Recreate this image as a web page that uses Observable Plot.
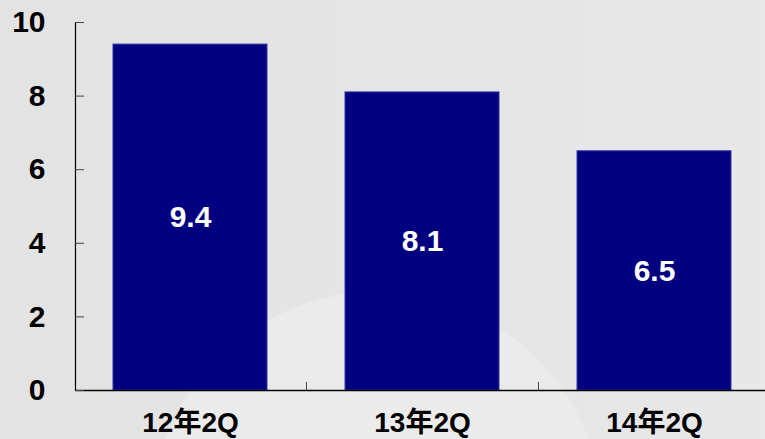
<!DOCTYPE html>
<html>
<head>
<meta charset="utf-8">
<script src="https://cdn.jsdelivr.net/npm/d3@7"></script>
<script src="https://cdn.jsdelivr.net/npm/@observablehq/plot@0.6"></script>
<style>
  html, body { margin: 0; padding: 0; }
  body {
    width: 765px; height: 439px; overflow: hidden;
    background:
      radial-gradient(circle 227px at 377px 518px, #ebebeb 0, #ebebeb 99%, rgba(235,235,235,0) 100%),
      linear-gradient(90deg, #e3e3e3 0%, #e5e5e5 60%, #e8e8e8 100%);
  }
  #chart svg { display: block; }
</style>
</head>
<body>
<div id="chart"></div>
<script>
const categories = ["12年2Q", "13年2Q", "14年2Q"];
const values = [9.4, 8.1, 6.5];
const yTicks = [0, 2, 4, 6, 8, 10];

const data = categories.map((c, i) => ({cat: c, value: values[i]}));
const font = "'Liberation Sans', Arial, 'Noto Sans CJK SC', sans-serif";

const xRange = [35, 809];
const xPadding = 0.336;
const step = (xRange[1] - xRange[0]) / (categories.length + xPadding);

const chart = Plot.plot({
  width: 765,
  height: 439,
  marginLeft: 75,
  marginRight: 0,
  marginTop: 22,
  marginBottom: 49,
  style: {background: "transparent", fontFamily: font, color: "black", overflow: "visible"},
  x: {domain: categories, range: xRange, padding: xPadding, label: null},
  y: {domain: [0, 10], label: null},
  marks: [
    Plot.barY(data, {x: "cat", y: "value", fill: "#000080", stroke: "#3434a4", strokeWidth: 1}),
    Plot.text(data, {x: "cat", y: d => d.value / 2, text: d => d.value.toFixed(1), fill: "white", fontSize: 30, fontWeight: "bold"}),
    Plot.ruleX(categories.slice(0, -1), {x: d => d, dx: step / 2, y1: 0, y2: 0.22, stroke: "#444", strokeWidth: 1}),
    Plot.ruleY([0], {stroke: "black", strokeWidth: 1.5}),
    Plot.frame({anchor: "left", stroke: "black", strokeWidth: 1.2}),
    Plot.axisY(yTicks, {tickSize: 9, dx: 9, tickFormat: () => "", stroke: "#444"}),
    Plot.axisY(yTicks, {tickSize: 0, tickPadding: 30, fontSize: 30, fontWeight: "bold", fill: "black"}),
    Plot.axisX({tickSize: 0, tickPadding: 22, fontSize: 28, fontWeight: "bold", fill: "black"})
  ]
});
document.getElementById("chart").append(chart);
</script>
</body>
</html>
